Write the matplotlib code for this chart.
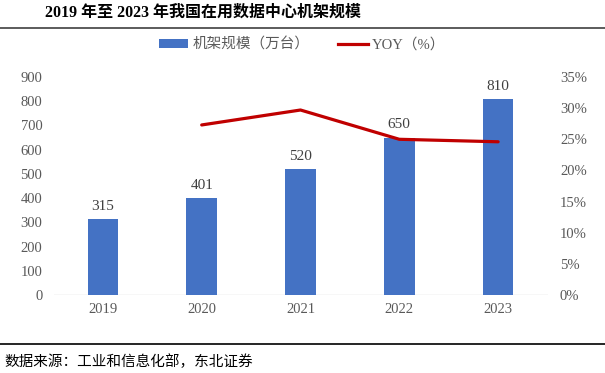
import matplotlib
matplotlib.use("Agg")
import matplotlib.pyplot as plt
from matplotlib.lines import Line2D
from matplotlib.patches import Patch

years = ["2019", "2020", "2021", "2022", "2023"]
racks = [315, 401, 520, 650, 810]
yoy_years = ["2020", "2021", "2022", "2023"]
yoy = [27.3, 29.7, 25.0, 24.6]
left_ticks = [0, 100, 200, 300, 400, 500, 600, 700, 800, 900]
right_ticks = [0, 5, 10, 15, 20, 25, 30, 35]

FAM = ["Liberation Serif", "Noto Sans CJK SC", "DejaVu Sans"]
plt.rcParams["font.family"] = FAM

fig = plt.figure(figsize=(6.05, 3.73), dpi=100)
W, H = 605, 373
ax = fig.add_axes([53.5 / W, 1 - 295 / H, 494 / W, 218 / H])
ax2 = ax.twinx()

x = list(range(len(years)))
ax.bar(x, racks, width=0.31, color="#4472C4", zorder=2)
for xi, v in zip(x, racks):
    ax.text(xi, v + 25, str(v), ha="center", va="bottom", fontsize=11, color="#404040")

xi_yoy = [years.index(y) for y in yoy_years]
ax2.plot(xi_yoy, yoy, color="#C00000", lw=2.3, solid_capstyle="round", solid_joinstyle="round", zorder=3)

ax.set_xlim(-0.5, len(years) - 0.5)
ax.set_ylim(0, 900)
ax.set_yticks(left_ticks)
ax.set_xticks(x)
ax.set_xticklabels(years)
ax2.set_ylim(0, 35)
ax2.set_yticks(right_ticks)
ax2.set_yticklabels([f"{t}%" for t in right_ticks])

for a in (ax, ax2):
    for s in ["top", "left", "right", "bottom"]:
        a.spines[s].set_visible(False)
    a.tick_params(length=0, labelsize=10.5, colors="#595959")
ax.axhline(0, color="#D9D9D9", lw=1.0, zorder=1)
ax.tick_params(axis="y", pad=8)
ax.tick_params(axis="x", pad=6)
ax2.tick_params(axis="y", pad=9)

# Title and rules
fig.text(45 / W, 1 - 13 / H, "2019 年至 2023 年我国在用数据中心机架规模", fontsize=11.5,
         fontweight="bold", ha="left", va="center", color="black")
fig.add_artist(Line2D([0, 1], [1 - 27.5 / H, 1 - 27.5 / H], color="#404040", lw=1.2, transform=fig.transFigure))
fig.add_artist(Line2D([0, 1], [1 - 344 / H, 1 - 344 / H], color="black", lw=1.2, transform=fig.transFigure))
fig.text(4 / W, 1 - 362 / H, "数据来源：工业和信息化部，东北证券", fontsize=10.5,
         ha="left", va="center", color="black")

handles = [Patch(facecolor="#4472C4", edgecolor="none"),
           Line2D([0], [0], color="#C00000", lw=2.3)]
fig.legend(handles, ["机架规模（万台）", "YOY（%）"], loc="center",
           bbox_to_anchor=(302 / W, 1 - 45 / H), ncol=2, frameon=False,
           fontsize=10.5, handlelength=2.0, handleheight=0.6, columnspacing=2.0,
           handletextpad=0.3, labelcolor="#595959")

fig.savefig("out.png", dpi=100)
